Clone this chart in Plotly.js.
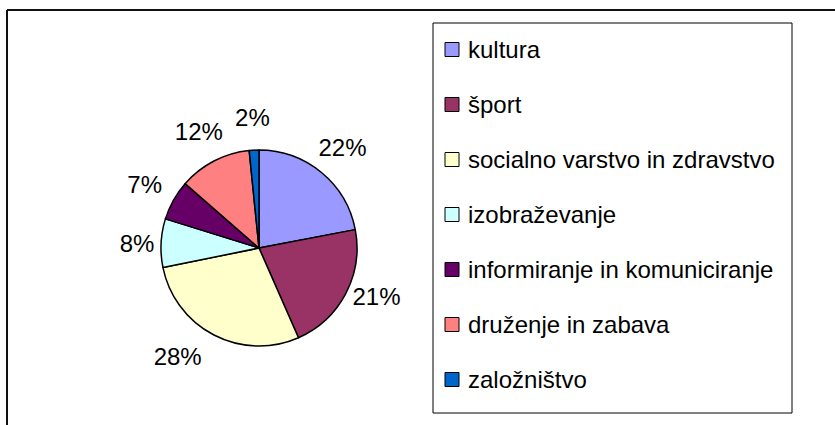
<!DOCTYPE html>
<html>
<head>
<meta charset="utf-8">
<script src="https://cdn.plot.ly/plotly-3.0.1.min.js"></script>
<style>
html,body{margin:0;padding:0;background:#fff;}
#chart{width:835px;height:425px;}
</style>
</head>
<body>
<div id="chart"></div>
<script>
// Data (shares in %)
const categories = ['kultura', 'šport', 'socialno varstvo in zdravstvo', 'izobraževanje', 'informiranje in komuniciranje', 'druženje in zabava', 'založništvo'];
const shares = [22.0, 21.4, 28.4, 8.0, 6.6, 12.0, 1.6];
const colors = ['#9999FF', '#993366', '#FFFFCC', '#CCFFFF', '#660066', '#FF8080', '#0066CC'];
// style only: which layer carries each percentage label
const labelLayer = ['ring', 'pie', 'outer', 'pie', 'ring', 'ring', 'ring'];

const W = 835, H = 425;
const FONT = 'Liberation Sans, Arial, Helvetica, sans-serif';
const px = x => x / W;
const py = y => 1 - y / H;
const CX = 259, CY = 248, R = 98, RL = 135, RO = 110;
const PCT = '%{percent:.0%}';
const dom = r => ({x: [px(CX - r), px(CX + r)], y: [py(CY + r), py(CY - r)]});
const clear = categories.map(() => 'rgba(0,0,0,0)');

const pie = {
  type: 'pie', labels: categories, values: shares,
  sort: false, direction: 'clockwise', rotation: 0,
  marker: {colors: colors, line: {color: '#000', width: 1.5}},
  textposition: 'outside',
  texttemplate: labelLayer.map(l => l === 'pie' ? PCT : ''),
  outsidetextfont: {family: FONT, size: 24, color: '#000'},
  hoverinfo: 'label+percent', showlegend: false, automargin: false,
  domain: dom(R)
};
// same data, invisible slices, slightly larger: outside labels a bit further away
const outerLabels = {
  type: 'pie', labels: categories, values: shares,
  sort: false, direction: 'clockwise', rotation: 0,
  marker: {colors: clear, line: {width: 0}},
  textposition: 'outside',
  texttemplate: labelLayer.map(l => l === 'outer' ? PCT : ''),
  outsidetextfont: {family: FONT, size: 24, color: '#000'},
  hoverinfo: 'skip', showlegend: false, automargin: false,
  domain: dom(RO)
};
// same data as an invisible thin ring around the pie; carries the remaining labels
const ringLabels = {
  type: 'pie', labels: categories, values: shares,
  sort: false, direction: 'clockwise', rotation: 0,
  hole: 0.94,
  marker: {colors: clear, line: {width: 0}},
  textposition: 'inside', insidetextorientation: 'horizontal',
  texttemplate: labelLayer.map(l => l === 'ring' ? PCT : ''),
  insidetextfont: {family: FONT, size: 24, color: '#000'},
  hoverinfo: 'skip', showlegend: false, automargin: false,
  domain: dom(RL)
};

const shapes = [
  {type: 'line', xref: 'paper', yref: 'paper', x0: px(7), x1: px(W + 10), y0: py(10), y1: py(10), line: {color: '#111', width: 2}},
  {type: 'line', xref: 'paper', yref: 'paper', x0: px(7), x1: px(7), y0: py(10), y1: py(H + 10), line: {color: '#111', width: 2}},
  {type: 'rect', xref: 'paper', yref: 'paper', x0: px(433), x1: px(792), y0: py(23), y1: py(413), line: {color: '#000', width: 1}, fillcolor: 'rgba(0,0,0,0)'}
];
const annotations = [];
const legTop = 49.5, legStep = 55;
categories.forEach((c, i) => {
  const yc = legTop + legStep * i;
  shapes.push({type: 'rect', xref: 'paper', yref: 'paper',
    x0: px(445), x1: px(459), y0: py(yc - 7), y1: py(yc + 7),
    fillcolor: colors[i], line: {color: '#000', width: 1}});
  annotations.push({xref: 'paper', yref: 'paper', x: px(466), y: py(yc),
    xanchor: 'left', yanchor: 'middle', showarrow: false, text: c,
    font: {family: FONT, size: 24, color: '#000'}});
});

const layout = {
  width: W, height: H,
  margin: {l: 0, r: 0, t: 0, b: 0},
  paper_bgcolor: '#fff', plot_bgcolor: '#fff',
  font: {family: FONT, size: 24, color: '#000'},
  showlegend: false,
  uniformtext: {mode: 'show', minsize: 24},
  shapes: shapes,
  annotations: annotations
};

Plotly.newPlot('chart', [ringLabels, outerLabels, pie], layout, {displayModeBar: false, staticPlot: true});
</script>
</body>
</html>
